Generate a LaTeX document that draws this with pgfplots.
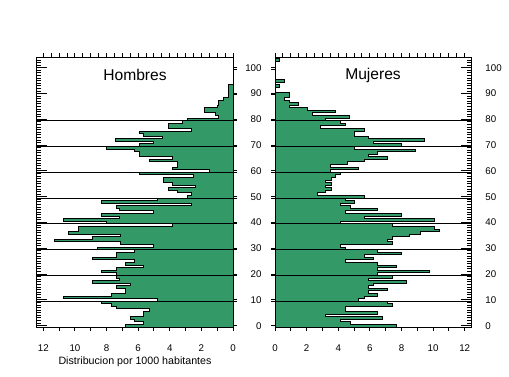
\documentclass[border=0pt]{standalone}
\usepackage{fontspec}
\setmainfont{Liberation Sans}
\usepackage{pgfplots}
\usepackage{pgfplotstable}
\pgfplotsset{compat=1.18}
\definecolor{pgreen}{RGB}{51,153,102}

% age  value (per 1000); first row (0,0) and last row (end,0) close the outline
\pgfplotstableread{
age v
0 0
0 6.8
1 5.65
2 6.2
3 6.5
4 5.65
5 5.65
6 5.3
7 7.4
8 7.7
9 8.3
10 4.76
11 10.7
12 7.7
13 6.8
14 6.8
15 7.4
16 6.5
17 8.9
18 7.15
19 7.4
20 7.4
21 8.3
22 7.4
23 5.65
24 6.8
25 6.2
26 8.9
27 7.4
28 7.4
29 6.2
30 8.6
31 5.0
32 7.1
33 11.3
34 8.9
35 7.1
36 10.4
37 9.8
38 9.8
39 3.8
40 8.0
41 10.7
42 7.15
43 8.3
44 5.0
45 7.15
46 7.4
47 2.65
48 8.3
49 4.76
50 2.9
51 2.65
52 3.5
53 4.1
54 2.35
55 3.8
56 4.4
57 4.4
58 2.5
59 5.9
60 1.5
61 3.8
62 3.5
63 3.5
64 5.3
65 3.8
66 5.9
67 5.9
68 6.2
69 8.0
70 5.9
71 5.0
72 7.45
73 4.45
74 5.65
75 5.9
76 2.65
77 4.1
78 4.1
79 3.2
80 2.9
81 0.9
82 1.1
83 1.8
84 1.8
85 1.0
86 0.9
87 0.9
88 0.6
89 0.3
90 0.3
91 0.27
92 0.27
93 0.27
94 0
}\hombres

\pgfplotstableread{
age v
0 0
0 7.7
1 4.76
2 4.13
3 6.8
4 3.2
5 6.5
6 4.44
7 4.44
8 7.43
9 7.1
10 5.3
11 5.64
12 6.5
13 5.9
14 7.1
15 5.9
16 6.2
17 8.3
18 5.9
19 7.43
20 6.5
21 9.75
22 6.5
23 7.7
24 6.5
25 4.44
26 6.2
27 5.64
28 8.0
29 6.5
30 4.44
31 4.13
32 7.43
33 7.1
34 7.43
35 8.5
36 9.2
37 10.4
38 10.06
39 7.43
40 4.13
41 10.06
42 5.64
43 8.0
44 4.44
45 6.5
46 4.76
47 4.13
48 5.0
49 4.44
50 5.64
51 2.67
52 3.2
53 3.58
54 3.2
55 3.58
56 3.2
57 3.58
58 3.8
59 4.13
60 3.54
61 5.3
62 3.54
63 4.6
64 5.64
65 7.1
66 5.9
67 6.5
68 8.86
69 5.0
70 8.0
71 6.2
72 9.43
73 5.9
74 5.0
75 5.0
76 5.64
77 2.9
78 4.44
79 4.13
80 3.2
81 4.7
82 2.4
83 3.8
84 2.06
85 0.9
86 1.47
87 0.9
88 0.6
89 0.9
90 0.9
91 0
92 0
93 0.27
94 0
95 0.6
96 0
97 0
98 0
99 0
100 0
101 0
102 0
103 0.27
104 0
}\mujeres

\pgfplotsset{
  panel/.style={scale only axis, width=147pt, height=202.5pt, anchor=south west,
    xmin=0, xmax=12.4, ymin=-0.5, ymax=104.2,
    axis line style={line width=0.75pt, black},
    every tick/.style={black, line width=0.75pt},
    /pgf/number format/assume math mode=true,
    tick label style={font=\fontsize{7.3}{8.5}\selectfont},
  },
  dataaxis/.style={panel, axis on top, xtick=\empty,
    ytick={0,10,...,100}, minor ytick={0,1,...,104},
    tick align=inside, major tick length=7.5pt, minor tick length=3pt,
    extra y ticks={9.5,19.5,...,79.5}, extra y tick labels={},
    extra y tick style={grid=major, major tick length=0pt},
    major grid style={black, line width=0.75pt},
  },
  topaxis/.style={panel, xtick={0,0.5,...,12}, xticklabels={}, xtick pos=top,
    ytick=\empty, tick align=outside, major tick length=3pt},
  botaxis/.style={panel, tick align=outside, major tick length=3pt, minor tick length=3pt,
    xtick={0,2,...,12}, minor xtick={1,3,...,11}, xtick pos=bottom,
    ytick={0,10,...,100}, extra y ticks={9.5,19.5,...,99.5}, extra y tick labels={},
    xticklabel style={yshift=-7pt}},
}

\begin{document}
\begin{tikzpicture}
\useasboundingbox (0,0) rectangle (381.75pt,282pt);

% ---------- Hombres ----------
\begin{axis}[dataaxis, at={(27.75pt,36.75pt)}, x dir=reverse,
  ytick pos=left, yticklabels={}]
\addplot[const plot mark right, fill=pgreen, draw=black, line width=0.75pt]
  table[x=v, y expr=\thisrow{age}-0.5] {\hombres};
\node[font=\fontsize{11.7}{13}\selectfont] at (rel axis cs:0.5,0.933) {Hombres};
\end{axis}
\begin{axis}[topaxis, at={(27.75pt,36.75pt)}, x dir=reverse]
\end{axis}
\begin{axis}[botaxis, at={(27.75pt,36.75pt)}, x dir=reverse,
  ytick pos=right, yticklabels={},
  xlabel={Distribucion por 1000 habitantes},
  xlabel style={at={(axis description cs:0.5,0)}, anchor=center, yshift=-26.25pt,
    font=\fontsize{8}{9.5}\selectfont}]
\end{axis}

% ---------- Mujeres ----------
\begin{axis}[dataaxis, at={(206.25pt,36.75pt)},
  ytick pos=right, yticklabel pos=right,
  yticklabel style={anchor=west, xshift=7.3pt}]
\addplot[const plot mark right, fill=pgreen, draw=black, line width=0.75pt]
  table[x=v, y expr=\thisrow{age}-0.5] {\mujeres};
\node[font=\fontsize{11.7}{13}\selectfont] at (rel axis cs:0.5,0.933) {Mujeres};
\end{axis}
\begin{axis}[topaxis, at={(206.25pt,36.75pt)}]
\end{axis}
\begin{axis}[botaxis, at={(206.25pt,36.75pt)},
  ytick pos=left, yticklabel style={xshift=-3.6pt}]
\end{axis}
\end{tikzpicture}
\end{document}
